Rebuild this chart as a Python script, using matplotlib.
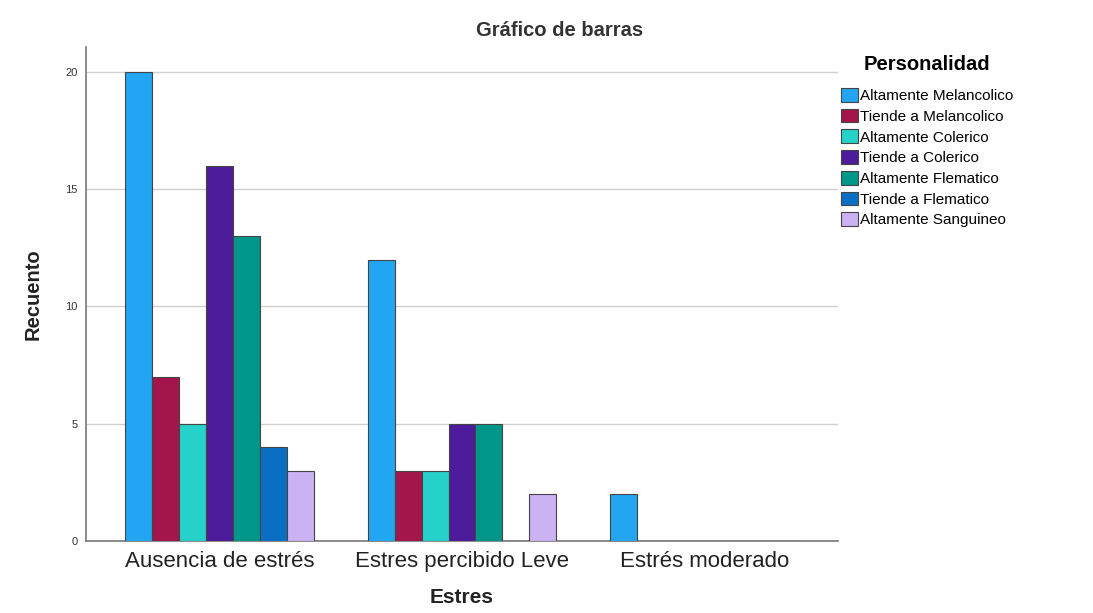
import matplotlib.pyplot as plt
import numpy as np

plt.rcParams['font.family'] = ['Liberation Sans', 'DejaVu Sans']

# categorias del eje x
grupos_estres = ["Ausencia de estrés", "Estres percibido Leve", "Estrés moderado"]

# series por personalidad (recuento por grupo de estres)
personalidades = [
    "Altamente Melancolico",
    "Tiende a Melancolico",
    "Altamente Colerico",
    "Tiende a Colerico",
    "Altamente Flematico",
    "Tiende a Flematico",
    "Altamente Sanguineo",
]
alt_melancolico = [20, 12, 2]
tiende_melancolico = [7, 3, 0]
alt_colerico = [5, 3, 0]
tiende_colerico = [16, 5, 0]
alt_flematico = [13, 5, 0]
tiende_flematico = [4, 0, 0]
alt_sanguineo = [3, 2, 0]

series = [alt_melancolico, tiende_melancolico, alt_colerico, tiende_colerico,
          alt_flematico, tiende_flematico, alt_sanguineo]
colores = ["#22a6f2", "#a3164b", "#26d1c9", "#4c1c9b", "#00978a", "#0a6fc2", "#cbb2f3"]

fig = plt.figure(figsize=(10.93, 6.13), dpi=100)
ax = fig.add_axes([0.0787, 0.1175, 0.688, 0.806])

x = np.arange(len(grupos_estres))
ancho = 1 / 9
for j, (nombre, vals, col) in enumerate(zip(personalidades, series, colores)):
    ax.bar(x + (j - 3) * ancho, vals, width=ancho, color=col, edgecolor="#444444",
           linewidth=0.8, label=nombre, zorder=3)

ax.set_xlim(-0.55, 2.55)
ax.set_ylim(0, 21.07)
ax.set_yticks([0, 5, 10, 15, 20])
ax.tick_params(axis="y", length=0, labelsize=8, colors="#333333", pad=6)
ax.tick_params(axis="x", length=0, labelsize=16, colors="#222222", pad=7)
ax.set_xticks(x)
ax.set_xticklabels(grupos_estres)
ax.grid(axis="y", color="#cfcfcf", linewidth=1, zorder=0)
for s in ["top", "right"]:
    ax.spines[s].set_visible(False)
for s in ["left", "bottom"]:
    ax.spines[s].set_color("#777777")
    ax.spines[s].set_linewidth(1.2)

ax.set_ylabel("Recuento", fontsize=14.5, fontweight="bold", labelpad=16, color="#222222")
ax.set_xlabel("Estres", fontsize=15, fontweight="bold", labelpad=12, color="#222222")
fig.text(0.512, 0.95, "Gráfico de barras", ha="center", va="center",
         fontsize=14.5, fontweight="bold", color="#333333")

leg = ax.legend(loc="upper left", bbox_to_anchor=(0.764, 0.92),
                bbox_transform=fig.transFigure, frameon=False,
                title="Personalidad", fontsize=11, handlelength=1.1,
                handleheight=1.0, handletextpad=0.15, labelspacing=0.37,
                borderaxespad=0)
leg.get_title().set_fontweight("bold")
leg.get_title().set_fontsize(14.5)
leg._legend_box.sep = 10

fig.savefig("out.png", dpi=100)
